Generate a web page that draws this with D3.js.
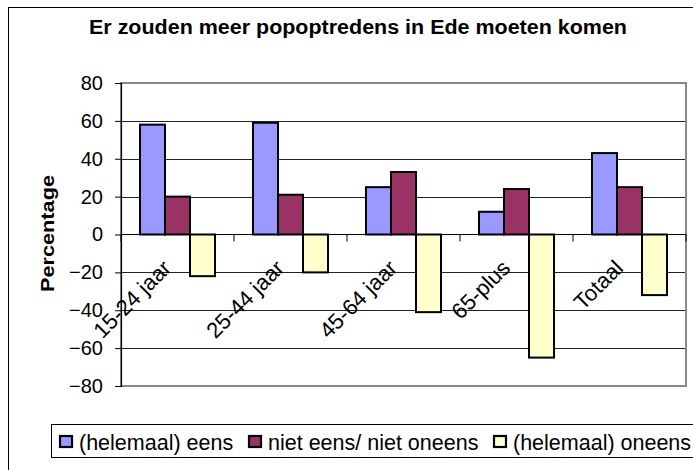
<!DOCTYPE html>
<meta charset="utf-8">
<style>
  body { margin: 0; background: #fff; }
  svg { font-family: "Liberation Sans", Arial, sans-serif; }
</style>
<svg width="693" height="470"></svg>
<script src="https://cdn.jsdelivr.net/npm/d3@7"></script>
<script>

var categories = ["15-24 jaar", "25-44 jaar", "45-64 jaar", "65-plus", "Totaal"],
    seriesNames = ["(helemaal) eens", "niet eens/ niet oneens", "(helemaal) oneens"],
    seriesColors = ["#9999ff", "#993366", "#ffffcc"];

var eens     = [58, 59, 25, 12, 43],
    neutraal = [20, 21, 33, 24, 25],
    oneens   = [-22, -20, -41, -65, -32];

var yTicks = [80, 60, 40, 20, 0, -20, -40, -60, -80];

var values = [eens, neutraal, oneens];

var svg = d3.select("svg");

var plot = {left: 121, right: 686, top: 83, bottom: 386};

var x = d3.scaleBand()
    .domain(categories)
    .range([plot.left, plot.right])
    .paddingInner(0.336)
    .paddingOuter(0.168);

var xs = d3.scaleBand()
    .domain(d3.range(seriesNames.length))
    .range([0, x.bandwidth()]);

var y = d3.scaleLinear()
    .domain([-80, 80])
    .range([plot.bottom, plot.top]);

// outer chart border
svg.append("rect")
    .attr("x", 8.5).attr("y", 7.5)
    .attr("width", 700).attr("height", 480)
    .attr("fill", "none").attr("stroke", "#000");

svg.append("text")
    .attr("x", 89).attr("y", 34)
    .attr("font-size", 20).attr("font-weight", "bold")
    .attr("textLength", 538).attr("lengthAdjust", "spacingAndGlyphs")
    .text("Er zouden meer popoptredens in Ede moeten komen");

// gridlines
svg.append("g")
  .selectAll("line")
  .data(yTicks.filter(function(d) { return d !== 0 && d !== 80 && d !== -80; }))
  .join("line")
    .attr("x1", plot.left).attr("x2", plot.right)
    .attr("y1", function(d) { return Math.round(y(d)) + 0.5; })
    .attr("y2", function(d) { return Math.round(y(d)) + 0.5; })
    .attr("stroke", "#222");

// plot area border (gray)
svg.append("rect")
    .attr("x", plot.left).attr("y", y(80))
    .attr("width", plot.right - plot.left).attr("height", y(-80) - y(80))
    .attr("fill", "none").attr("stroke", "#888").attr("stroke-width", 2);

// y axis
var yAxis = svg.append("g")
    .attr("transform", "translate(" + plot.left + ",0)")
    .call(d3.axisLeft(y).tickValues(yTicks).tickSize(6).tickPadding(12));
yAxis.select(".domain").attr("stroke", "#000").attr("stroke-width", 1.2);
yAxis.selectAll("text").attr("font-size", 20).attr("fill", "#000")
    .attr("font-family", "Liberation Sans, Arial, sans-serif");

svg.append("text")
    .attr("transform", "translate(53.5,233.5) rotate(-90)")
    .attr("text-anchor", "middle")
    .attr("font-size", 18).attr("font-weight", "bold")
    .attr("textLength", 117).attr("lengthAdjust", "spacingAndGlyphs")
    .text("Percentage");

// bars
var groups = svg.append("g")
  .selectAll("g")
  .data(values)
  .join("g")
    .attr("fill", function(d, i) { return seriesColors[i]; });

groups.selectAll("rect")
  .data(function(d, i) { return d.map(function(v, j) { return {s: i, c: categories[j], v: v}; }); })
  .join("rect")
    .attr("x", function(d) { return x(d.c) + xs(d.s); })
    .attr("y", function(d) { return y(Math.max(0, d.v)); })
    .attr("width", xs.bandwidth())
    .attr("height", function(d) { return Math.abs(y(d.v) - y(0)); })
    .attr("stroke", "#000").attr("stroke-width", 2);

// zero axis with category ticks
svg.append("line")
    .attr("x1", plot.left).attr("x2", plot.right)
    .attr("y1", y(0)).attr("y2", y(0))
    .attr("stroke", "#000");

var step = x.step();
svg.append("g")
  .selectAll("line")
  .data(d3.range(categories.length + 1))
  .join("line")
    .attr("x1", function(d) { return plot.left + d * step; })
    .attr("x2", function(d) { return plot.left + d * step; })
    .attr("y1", y(0)).attr("y2", y(0) + 7)
    .attr("stroke", "#000");

// category labels
svg.append("g")
  .selectAll("text")
  .data(categories)
  .join("text")
    .attr("transform", function(d) {
      return "translate(" + (x(d) + x.bandwidth() / 2 - 5) + "," + (y(0) + 35) + ") rotate(-45)";
    })
    .attr("text-anchor", "end")
    .attr("font-size", 22)
    .text(function(d) { return d; });

// legend
svg.append("rect")
    .attr("x", 51.5).attr("y", 424.5)
    .attr("width", 700).attr("height", 33)
    .attr("fill", "#fff").attr("stroke", "#000");

var legendX = [59, 248, 493];
var legend = svg.append("g")
  .selectAll("g")
  .data(seriesNames)
  .join("g")
    .attr("transform", function(d, i) { return "translate(" + legendX[i] + ",436)"; });

legend.append("rect")
    .attr("x", 1).attr("y", 0)
    .attr("width", 12).attr("height", 11)
    .attr("fill", function(d, i) { return seriesColors[i]; })
    .attr("stroke", "#000").attr("stroke-width", 2.2);

legend.append("text")
    .attr("x", 20).attr("y", 14)
    .attr("font-size", 21.5)
    .text(function(d) { return d; });

</script>
